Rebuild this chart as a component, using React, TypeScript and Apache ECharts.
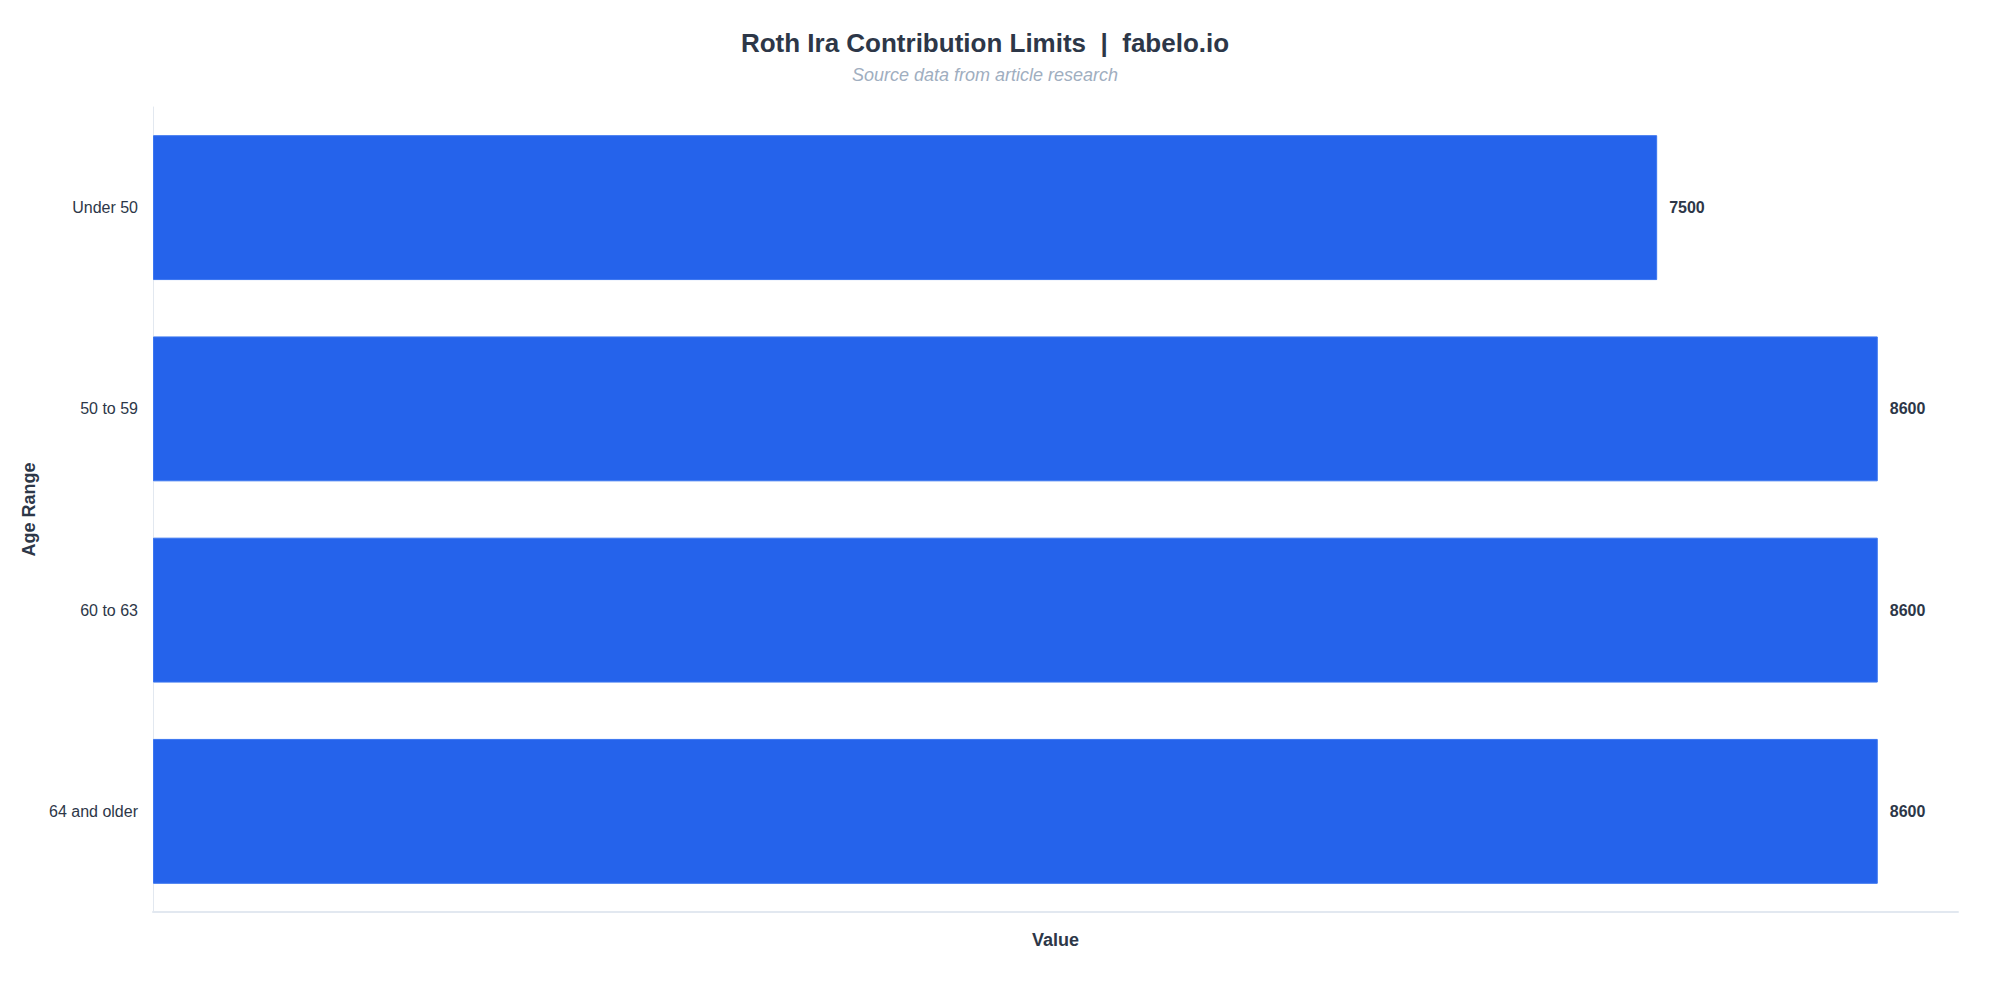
import { useEffect, useRef } from "react";
import * as echarts from "echarts";

const ageRanges = ["Under 50", "50 to 59", "60 to 63", "64 and older"];
const limits = [7500, 8600, 8600, 8600];

const titleText = "Roth Ira Contribution Limits  |  fabelo.io";
const subtitleText = "Source data from article research";

export default function App() {
  const chartRef = useRef<HTMLDivElement>(null);

  useEffect(() => {
    if (!chartRef.current) return;
    const chart = echarts.init(chartRef.current, null, { renderer: "svg" });

    const option: echarts.EChartsOption = {
      animation: false,
      backgroundColor: "#ffffff",
      textStyle: { fontFamily: "Liberation Sans, Arial, sans-serif" },
      title: {
        text: titleText,
        subtext: subtitleText,
        left: 972,
        textAlign: "center",
        top: 17,
        itemGap: 10,
        textStyle: { fontSize: 26, fontWeight: "bold", color: "#2d3748" },
        subtextStyle: { fontSize: 18, fontStyle: "italic", color: "#a0aec0" }
      },
      grid: { left: 145, right: 34, top: 99, bottom: 80 },
      xAxis: {
        type: "value",
        min: 0,
        max: 9000,
        name: "Value",
        nameLocation: "middle",
        nameGap: 19,
        nameTextStyle: { fontSize: 18, fontWeight: "bold", color: "#2d3748" },
        axisLine: { show: true, lineStyle: { color: "#e2e8f0", width: 2 } },
        axisTick: { show: false },
        axisLabel: { show: false },
        splitLine: { show: false }
      },
      yAxis: {
        type: "category",
        data: ageRanges,
        inverse: true,
        name: "Age Range",
        nameLocation: "middle",
        nameGap: 110,
        nameTextStyle: { fontSize: 18, fontWeight: "bold", color: "#2d3748" },
        axisLine: { show: true, lineStyle: { color: "#e2e8f0", width: 1 } },
        axisTick: { show: false },
        axisLabel: { fontSize: 16, color: "#2d3748", margin: 15 },
        splitLine: { show: false }
      },
      series: [
        {
          type: "bar",
          data: limits,
          barCategoryGap: "28%",
          itemStyle: { color: "#2563eb", borderColor: "#3b76f0", borderWidth: 1 },
          label: {
            show: true,
            position: "right",
            distance: 12,
            fontSize: 16,
            fontWeight: "bold",
            color: "#2d3748"
          }
        }
      ]
    };

    chart.setOption(option);
    const handleResize = () => chart.resize();
    window.addEventListener("resize", handleResize);
    return () => {
      window.removeEventListener("resize", handleResize);
      chart.dispose();
    };
  }, []);

  return <div ref={chartRef} style={{ width: "1984px", height: "984px" }} />;
}
